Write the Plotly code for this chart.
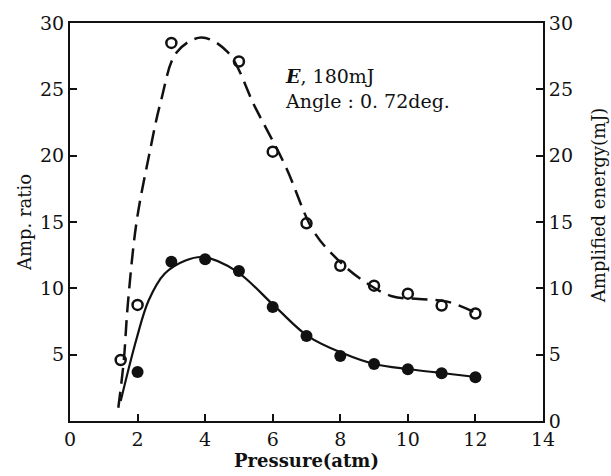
import plotly.graph_objects as go

# Measured points
p_open = [1.5, 2, 3, 5, 6, 7, 8, 9, 10, 11, 12]
amp_ratio = [4.6, 8.75, 28.5, 27.1, 20.3, 14.9, 11.7, 10.2, 9.6, 8.7, 8.1]

p_fill = [2, 3, 4, 5, 6, 7, 8, 9, 10, 11, 12]
energy = [3.7, 12.0, 12.2, 11.3, 8.6, 6.4, 4.9, 4.3, 3.9, 3.6, 3.3]

# Hand-drawn fitted curves
dash_x = [1.43, 1.59, 1.71, 1.97, 2.33, 2.69, 3.16, 3.89, 4.67, 5.49, 6.38, 7.21, 7.95, 8.66, 9.53, 10.33, 11.17, 12.06]
dash_y = [1.0, 4.5, 8.75, 15.0, 19.9, 24.1, 27.8, 28.9, 27.8, 23.6, 19.2, 14.3, 12.1, 10.6, 9.4, 9.2, 9.0, 8.1]

solid_x = [1.5, 1.97, 2.33, 2.8, 3.42, 3.96, 4.92, 6.08, 7.04, 8.08, 9.0, 10.05, 11.06, 12.08]
solid_y = [1.5, 6.2, 9.1, 11.1, 12.1, 12.35, 11.3, 8.6, 6.4, 5.1, 4.3, 3.9, 3.6, 3.3]

x_ticks = [0, 2, 4, 6, 8, 10, 12, 14]
left_ticks = [5, 10, 15, 20, 25, 30]
right_ticks = [0, 5, 10, 15, 20, 25, 30]

FONT = "DejaVu Serif"
BLACK = "#111111"

fig = go.Figure()
fig.add_trace(go.Scatter(x=dash_x, y=dash_y, mode="lines",
                         line=dict(color=BLACK, width=2.5, dash="16px,8px", shape="spline", smoothing=1.0),
                         showlegend=False, hoverinfo="skip"))
fig.add_trace(go.Scatter(x=p_open, y=amp_ratio, mode="markers",
                         marker=dict(symbol="circle-open", size=10, color=BLACK, line=dict(width=2.5, color=BLACK)),
                         showlegend=False))
fig.add_trace(go.Scatter(x=solid_x, y=solid_y, mode="lines", yaxis="y2",
                         line=dict(color=BLACK, width=2.2, shape="spline", smoothing=1.0),
                         showlegend=False, hoverinfo="skip"))
fig.add_trace(go.Scatter(x=p_fill, y=energy, mode="markers", yaxis="y2",
                         marker=dict(symbol="circle", size=12, color=BLACK),
                         showlegend=False))

axis_common = dict(showgrid=False, zeroline=False, ticks="inside", ticklen=7, tickwidth=2,
                   tickcolor=BLACK, linecolor=BLACK, linewidth=2,
                   tickfont=dict(family=FONT, size=19, color=BLACK))

fig.update_layout(
    width=611, height=476,
    margin=dict(l=70, r=68, t=13, b=55),
    paper_bgcolor="white", plot_bgcolor="white",
    xaxis=dict(range=[0, 14], tickvals=x_ticks, ticktext=[str(v) for v in x_ticks],
               showline=True, mirror=True,
               title=dict(text="<b>Pressure(atm)</b>", font=dict(family=FONT, size=18, color=BLACK), standoff=2),
               **axis_common),
    yaxis=dict(range=[0, 30], tickvals=left_ticks, ticktext=[str(v) for v in left_ticks],
               showline=True,
               title=dict(text="Amp. ratio", font=dict(family=FONT, size=18, color=BLACK), standoff=4),
               **axis_common),
    yaxis2=dict(range=[0, 30], tickvals=right_ticks, ticktext=[str(v) for v in right_ticks],
                overlaying="y", side="right", showline=True,
                **axis_common),
    annotations=[
        dict(text="Amplified energy(mJ)", xref="paper", yref="paper", x=1.116, y=0.542,
             xanchor="center", yanchor="middle", textangle=-90, showarrow=False,
             font=dict(family=FONT, size=18, color=BLACK)),
        dict(text="<b><i>E</i></b>, 180mJ", xref="paper", yref="paper", x=0.45, y=0.868,
             xanchor="left", yanchor="middle", showarrow=False,
             font=dict(family=FONT, size=19, color=BLACK)),
        dict(text="Angle : 0. 72deg.", xref="paper", yref="paper", x=0.45, y=0.804,
             xanchor="left", yanchor="middle", showarrow=False,
             font=dict(family=FONT, size=19, color=BLACK)),
    ],
)

fig.write_html("out.html")
